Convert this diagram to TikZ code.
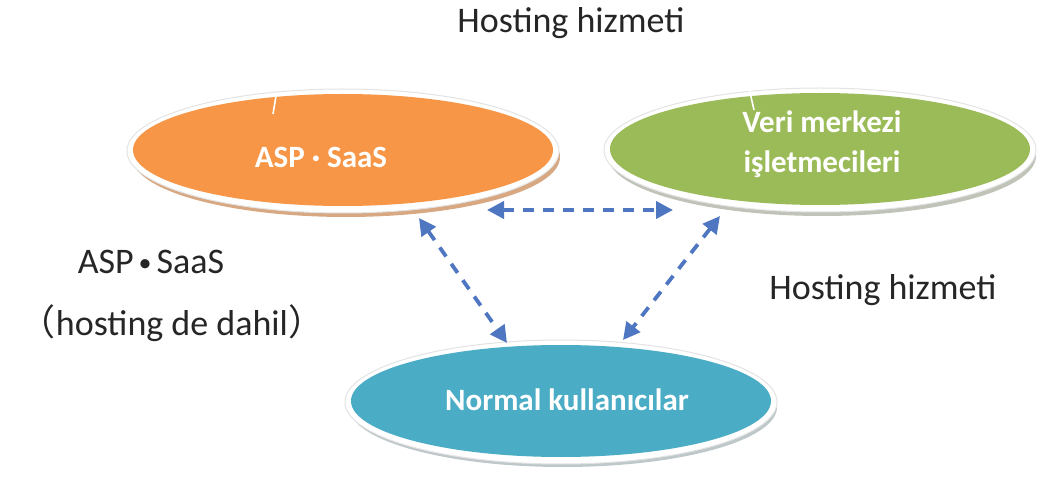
\documentclass[tikz,border=0pt]{standalone}
\usepackage{fontspec}
\setmainfont{Carlito}
\newfontfamily\cjkfont{Noto Sans CJK JP}
\usetikzlibrary{shapes.geometric,arrows.meta}

\definecolor{aspOrange}{HTML}{F79646}
\definecolor{aspShadow}{HTML}{C98B58}
\definecolor{dcGreen}{HTML}{9BBB59}
\definecolor{dcShadow}{HTML}{A9AFA0}
\definecolor{userBlue}{HTML}{4BACC6}
\definecolor{userShadow}{HTML}{A8B4B8}
\definecolor{linkBlue}{HTML}{4F76C0}
\definecolor{labelGray}{HTML}{262626}

\tikzset{
  blob/.style={ellipse, minimum width=420pt, minimum height=112pt, inner sep=0pt},
  rim/.style={blob, fill=white, draw=gray!22, line width=1pt,
              minimum width=432pt, minimum height=124pt},
  shade/.style={blob, minimum width=428pt, minimum height=120pt, opacity=0.75},
  inner/.style={text=white, font=\bfseries\fontsize{31}{40}\selectfont, align=center},
  label/.style={text=labelGray, font=\fontsize{36}{40}\selectfont},
  link/.style={draw=linkBlue, line width=3.8pt, dash pattern=on 11pt off 9pt,
               {Triangle[length=17pt,width=17pt]}-{Triangle[length=17pt,width=17pt]}},
  glint/.style={draw=white, line width=1.6pt}
}

\begin{document}
\begin{tikzpicture}[x=1pt,y=-1pt]
\useasboundingbox (0,0) rectangle (1037,481);

% ASP / SaaS ellipse
\node[shade, fill=aspShadow] (aspShade) at (346,157) {};
\node[rim] (aspRim) at (343,151) {};
\node[blob, fill=aspOrange] (asp) at (343,150) {};
\node[inner] (aspText) at (321,157) {ASP\kern7pt·\kern7pt SaaS};
\draw[glint] (276,96) -- (273,114);

% data centre operators ellipse
\node[shade, fill=dcShadow] (dcShade) at (822,156) {};
\node[rim] (dcRim) at (820,150) {};
\node[blob, fill=dcGreen] (dc) at (820,149) {};
\node[inner] (dcText) at (822,144) {Veri merkezi\\işletmecileri};
\draw[glint] (749,88) -- (754,110);

% ordinary users ellipse
\node[shade, fill=userShadow] (userShade) at (563,407) {};
\node[rim] (userRim) at (561,402) {};
\node[blob, fill=userBlue] (user) at (561,401) {};
\node[inner] (userText) at (567,400) {Normal kullanıcılar};

% link end points
\coordinate (aspE) at (487,210);
\coordinate (dcW) at (673,210);
\coordinate (aspS) at (419,218);
\coordinate (userNW) at (507,343);
\coordinate (dcS) at (720,216);
\coordinate (userNE) at (623,340);

\draw[link] (aspE) -- (dcW);
\draw[link] (aspS) -- (userNW);
\draw[link] (dcS) -- (userNE);

% free labels
\node[label] (topLabel) at (571,23) {Hosting hizmeti};
\node[label] (aspLabel) at (151,262) {ASP\kern5pt{\fontsize{26}{30}\selectfont\raisebox{2pt}{•}}\kern5pt SaaS};
\node[label] (hostLabel) at (172,323) {{\cjkfont （}hosting de dahil{\cjkfont ）}};
\node[label] (rightLabel) at (883,290) {Hosting hizmeti};
\end{tikzpicture}
\end{document}
